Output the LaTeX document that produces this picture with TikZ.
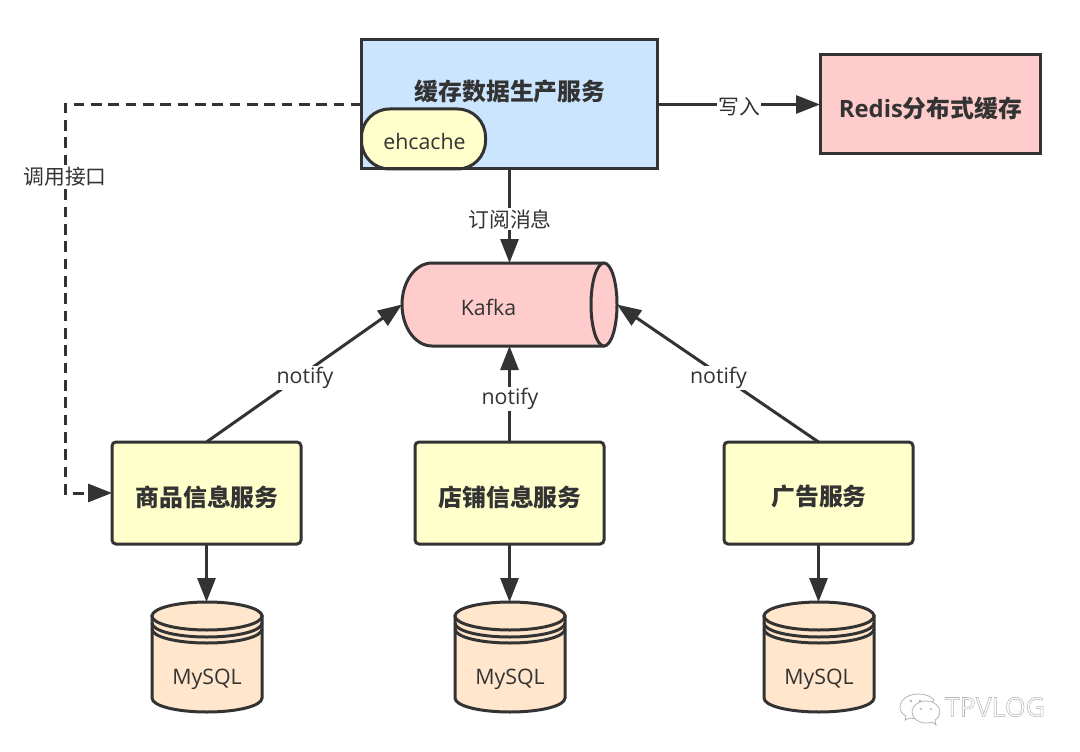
\documentclass[tikz,border=0pt]{standalone}
\usepackage{fontspec}
\setmainfont{Open Sans}
\newfontfamily\cjk{Noto Sans CJK SC}
\usetikzlibrary{arrows.meta}
\definecolor{linegray}{HTML}{333333}
\definecolor{boxblue}{HTML}{CCE5FF}
\definecolor{boxpink}{HTML}{FFCCCC}
\definecolor{boxyellow}{HTML}{FFFFCC}
\definecolor{boxpeach}{HTML}{FFE6CC}
\definecolor{markgray}{HTML}{B4B4B4}
\tikzset{every picture/.style={line width=2.25pt}}
\tikzset{
  plainbox/.style={inner sep=0pt,outer sep=0pt,draw=linegray},
  servicebox/.style={plainbox,fill=boxyellow,rounded corners=3pt,minimum width=141.75pt,minimum height=76.5pt},
  anchorbox/.style={inner sep=0pt,outer sep=0pt},
  boldtext/.style={font=\cjk\bfseries\fontsize{17.9}{20}\selectfont,text=linegray,inner sep=0pt},
  edgetext/.style={font=\cjk\fontsize{15.6}{18}\selectfont,text=linegray,fill=white,inner sep=1pt},
  plaintext/.style={font=\fontsize{16}{18}\selectfont,text=linegray,inner sep=0pt},
  notifytext/.style={plaintext,fill=white,inner sep=1pt},
  flow/.style={draw=linegray,-{Triangle[length=18pt,width=13.5pt]}},
}

\begin{document}
\begin{tikzpicture}[x=0.75pt,y=0.75pt,yscale=-1,xscale=1]
\useasboundingbox (0,0) rectangle (1080,752);

%Shape: Kafka cylinder
\draw [draw=linegray,fill=boxpink] (604,263) -- (432,263) .. controls (415.4,263) and (402,281.6) .. (402,304.5) .. controls (402,327.4) and (415.4,346) .. (432,346) -- (604,346) ;
\draw [draw=linegray,fill=boxpink] (604,304.5) circle [x radius=13, y radius=41.5] ;
\draw (509.5,304.5) node (kafka) [anchorbox,minimum width=161.25pt,minimum height=62.25pt] {};

%Shape: cache service
\draw (509.5,104.5) node (cacheService) [plainbox,fill=boxblue,minimum width=222pt,minimum height=96.75pt] {};
\draw (423.5,139) node (ehcache) [plainbox,fill=boxyellow,rounded corners=21pt,minimum width=93pt,minimum height=45pt] {};
\draw [draw=linegray] (cacheService.north west) rectangle (cacheService.south east) ;

%Shape: Redis
\draw (930,104.5) node (redis) [plainbox,fill=boxpink,minimum width=165pt,minimum height=74.25pt] {};

%Shape: services
\draw (206.5,493) node (goodsService) [servicebox] {};
\draw (509.5,493) node (shopService) [servicebox] {};
\draw (818.5,493) node (adService) [servicebox] {};

%Shape: MySQL left
\draw [draw=linegray,fill=boxpeach] (152,616) -- (152,698) .. controls (152,706) and (177,712) .. (207,712) .. controls (237,712) and (262,706) .. (262,698) -- (262,616) -- cycle ;
\draw [draw=linegray,fill=boxpeach] (207,616) circle [x radius=55, y radius=14] ;
\draw [draw=linegray] (152,623) .. controls (152,631) and (177,637) .. (207,637) .. controls (237,637) and (262,631) .. (262,623) ;
\draw [draw=linegray] (152,629) .. controls (152,637) and (177,643) .. (207,643) .. controls (237,643) and (262,637) .. (262,629) ;
\draw (206.5,657) node (dbGoods) [anchorbox,minimum width=82.5pt,minimum height=82.5pt] {};

%Shape: MySQL middle
\draw [draw=linegray,fill=boxpeach] (455,616) -- (455,698) .. controls (455,706) and (480,712) .. (510,712) .. controls (540,712) and (565,706) .. (565,698) -- (565,616) -- cycle ;
\draw [draw=linegray,fill=boxpeach] (510,616) circle [x radius=55, y radius=14] ;
\draw [draw=linegray] (455,623) .. controls (455,631) and (480,637) .. (510,637) .. controls (540,637) and (565,631) .. (565,623) ;
\draw [draw=linegray] (455,629) .. controls (455,637) and (480,643) .. (510,643) .. controls (540,643) and (565,637) .. (565,629) ;
\draw (509.5,657) node (dbShop) [anchorbox,minimum width=82.5pt,minimum height=82.5pt] {};

%Shape: MySQL right
\draw [draw=linegray,fill=boxpeach] (764,616) -- (764,698) .. controls (764,706) and (789,712) .. (819,712) .. controls (849,712) and (874,706) .. (874,698) -- (874,616) -- cycle ;
\draw [draw=linegray,fill=boxpeach] (819,616) circle [x radius=55, y radius=14] ;
\draw [draw=linegray] (764,623) .. controls (764,631) and (789,637) .. (819,637) .. controls (849,637) and (874,631) .. (874,623) ;
\draw [draw=linegray] (764,629) .. controls (764,637) and (789,643) .. (819,643) .. controls (849,643) and (874,637) .. (874,629) ;
\draw (818.5,657) node (dbAd) [anchorbox,minimum width=82.5pt,minimum height=82.5pt] {};

%Straight Lines
\draw [flow] (cacheService.east) -- (redis.west) ;
\draw [flow] (cacheService.south) -- (kafka.north) ;
\draw [flow,dash pattern=on 8pt off 5pt] (cacheService.west) -- (65,104.5) -- (65,493) -- (goodsService.west) ;
\draw [flow] (goodsService.north) -- (kafka.west) ;
\draw [flow] (shopService.north) -- (kafka.south) ;
\draw [flow] (adService.north) -- (kafka.east) ;
\draw [flow] (goodsService.south) -- (dbGoods.north) ;
\draw [flow] (shopService.south) -- (dbShop.north) ;
\draw [flow] (adService.south) -- (dbAd.north) ;

% Text Node
\draw (510,92) node (cacheLabel) [boldtext] {缓存数据生产服务};
% Text Node
\draw (930.5,108) node (redisLabel) [boldtext] {{\fontspec{Open Sans}\bfseries Redis}分布式缓存};
% Text Node
\draw (207,497) node (goodsLabel) [boldtext] {商品信息服务};
% Text Node
\draw (510,497) node (shopLabel) [boldtext] {店铺信息服务};
% Text Node
\draw (819,497) node (adLabel) [boldtext] {广告服务};
% Text Node
\draw (424.5,142) node (ehcacheLabel) [plaintext] {ehcache};
% Text Node
\draw (488.5,307) node (kafkaLabel) [plaintext] {Kafka};
% Text Node
\draw (207,679) node (mysqlGoods) [plaintext] {MySQL};
% Text Node
\draw (510,679) node (mysqlShop) [plaintext] {MySQL};
% Text Node
\draw (819,679) node (mysqlAd) [plaintext] {MySQL};
% Text Node
\draw (739,107) node (writeLabel) [edgetext] {写入};
% Text Node
\draw (510,219) node (subscribeLabel) [edgetext] {订阅消息};
% Text Node
\draw (65,177) node (callLabel) [edgetext] {调用接口};
% Text Node
\draw (305,378) node (notifyGoods) [notifytext] {notify};
% Text Node
\draw (510,399) node (notifyShop) [notifytext] {notify};
% Text Node
\draw (718.5,378) node (notifyAd) [notifytext] {notify};

%Shape: watermark bubbles
\draw [draw=markgray,line width=0.6pt,fill=white] (918,694) .. controls (908,694) and (900,700) .. (900,707) .. controls (900,711) and (902,714) .. (906,716) -- (905,720) -- (910,718) .. controls (914,719) and (919,719) .. (922,718) -- (934,700) .. controls (931,696) and (925,694) .. (918,694) -- cycle ;
\draw [draw=markgray,line width=0.6pt,fill=white] (926,701) .. controls (918,701) and (912,706) .. (912,712) .. controls (912,718) and (918,723) .. (926,723) .. controls (928,723) and (930,723) .. (932,722) -- (936,725) -- (935,720) .. controls (938,718) and (940,715) .. (940,712) .. controls (940,706) and (934,701) .. (926,701) -- cycle ;
\draw [fill=markgray,draw=none] (911,701) circle [radius=1.3] ;
\draw [fill=markgray,draw=none] (920,701) circle [radius=1.3] ;
\draw [fill=markgray,draw=none] (921,709) circle [radius=1.1] ;
\draw [fill=markgray,draw=none] (931,709) circle [radius=1.1] ;
% Text Node
\draw (995,707) node (watermark) [inner sep=0pt,text=markgray,font=\fontsize{20}{22}\selectfont] {\special{pdf:code 1 Tr 0.4 w}TPVLOG\special{pdf:code 0 Tr}};

\end{tikzpicture}
\end{document}
